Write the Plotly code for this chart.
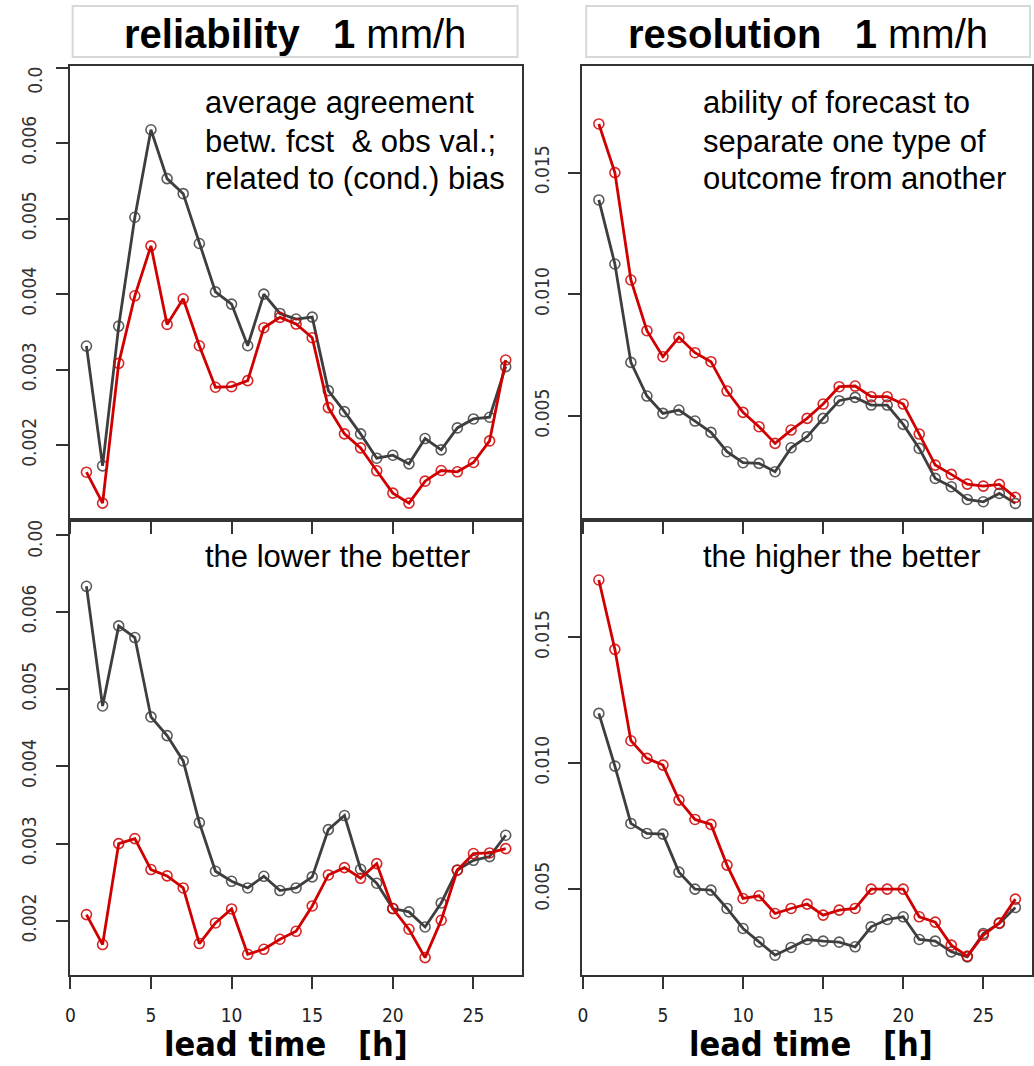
import plotly.graph_objects as go

# Lead time in hours
lead_time = list(range(1, 28))

# Reliability, 1 mm/h threshold (upper and lower panels)
rel_top_black = [0.003313, 0.001727, 0.003577, 0.005018, 0.006176, 0.005529, 0.005330,
                 0.004670, 0.004030, 0.003868, 0.003317, 0.004000, 0.003744, 0.003670,
                 0.003696, 0.002722, 0.002445, 0.002150, 0.001828, 0.001868, 0.001753,
                 0.002088, 0.001938, 0.002229, 0.002348, 0.002370, 0.003040]
rel_top_red = [0.001643, 0.001233, 0.003084, 0.003978, 0.004639, 0.003599, 0.003938,
               0.003317, 0.002767, 0.002775, 0.002855, 0.003555, 0.003692, 0.003604,
               0.003423, 0.002498, 0.002150, 0.001965, 0.001661, 0.001366, 0.001233,
               0.001524, 0.001665, 0.001648, 0.001771, 0.002057, 0.003128]
rel_bot_black = [0.006332, 0.004783, 0.005819, 0.005668, 0.004641, 0.004399, 0.004071,
                 0.003273, 0.002643, 0.002513, 0.002427, 0.002578, 0.002393, 0.002427,
                 0.002570, 0.003182, 0.003364, 0.002669, 0.002488, 0.002160, 0.002117,
                 0.001922, 0.002233, 0.002660, 0.002785, 0.002833, 0.003109]
rel_bot_red = [0.002082, 0.001694, 0.003001, 0.003066, 0.002665, 0.002583, 0.002427,
               0.001707, 0.001974, 0.002155, 0.001568, 0.001633, 0.001763, 0.001866,
               0.002194, 0.002595, 0.002690, 0.002552, 0.002742, 0.002160, 0.001892,
               0.001525, 0.002009, 0.002656, 0.002872, 0.002880, 0.002936]

# Resolution, 1 mm/h threshold (upper and lower panels)
res_top_black = [0.013877, 0.011247, 0.007205, 0.005822, 0.005110, 0.005247, 0.004795,
                 0.004329, 0.003534, 0.003082, 0.003055, 0.002712, 0.003699, 0.004151,
                 0.004904, 0.005630, 0.005767, 0.005452, 0.005452, 0.004658, 0.003671,
                 0.002438, 0.002096, 0.001575, 0.001479, 0.001822, 0.001411]
res_top_red = [0.017000, 0.015000, 0.010590, 0.008507, 0.007438, 0.008233, 0.007603,
               0.007233, 0.006027, 0.005151, 0.004562, 0.003877, 0.004425, 0.004904,
               0.005493, 0.006205, 0.006233, 0.005795, 0.005795, 0.005493, 0.004260,
               0.002986, 0.002603, 0.002205, 0.002123, 0.002192, 0.001658]
res_bot_black = [0.011980, 0.009887, 0.007609, 0.007212, 0.007185, 0.005675, 0.005000,
                 0.004960, 0.004232, 0.003437, 0.002907, 0.002377, 0.002682, 0.003000,
                 0.002934, 0.002894, 0.002709, 0.003503, 0.003795, 0.003901, 0.003000,
                 0.002934, 0.002510, 0.002311, 0.003238, 0.003636, 0.004272]
res_bot_red = [0.017278, 0.014523, 0.010894, 0.010192, 0.009927, 0.008536, 0.007768,
               0.007570, 0.005954, 0.004629, 0.004735, 0.004033, 0.004232, 0.004404,
               0.003967, 0.004166, 0.004232, 0.005000, 0.005000, 0.005000, 0.003901,
               0.003689, 0.002775, 0.002338, 0.003172, 0.003662, 0.004603]

x_ticks = [0, 5, 10, 15, 20, 25]
rel_ticks = [0.002, 0.003, 0.004, 0.005, 0.006, 0.007]
rel_ticktext = ["0.002", "0.003", "0.004", "0.005", "0.006", ""]
res_ticks = [0.005, 0.010, 0.015]
res_ticktext = ["0.005", "0.010", "0.015"]

W, H = 1034, 1066
BLACK = "#3e3e3e"
RED = "#d00000"
AXIS = "#333333"
NARROW = "Liberation Sans Narrow, DejaVu Sans Condensed, Arial Narrow, sans-serif"
SANS = "Liberation Sans, Arial, Helvetica, sans-serif"


def px_x(p):
    return p / W


def px_y(p):
    return 1 - p / H


fig = go.Figure()

panels = [
    ("x", "y", rel_top_black, rel_top_red),
    ("x2", "y2", res_top_black, res_top_red),
    ("x3", "y3", rel_bot_black, rel_bot_red),
    ("x4", "y4", res_bot_black, res_bot_red),
]
for xa, ya, blk, red in panels:
    for vals, col in ((blk, BLACK), (red, RED)):
        fig.add_trace(go.Scatter(
            x=lead_time, y=vals, xaxis=xa, yaxis=ya, mode="lines+markers",
            line=dict(color=col, width=2.8),
            marker=dict(symbol="circle-open", size=10, color=col,
                        line=dict(width=1.6, color=col), opacity=0.85),
            showlegend=False, hoverinfo="x+y"))

left_dom = [px_x(65), px_x(520)]
right_dom = [px_x(580), px_x(1032)]
top_dom = [px_y(520), px_y(66)]
bot_dom = [px_y(975), px_y(520)]

common_x = dict(range=[-0.04, 28.04], showgrid=False, zeroline=False,
                showline=True, mirror=True, linecolor=AXIS, linewidth=2,
                ticks="outside", ticklen=12, tickwidth=1.5, tickcolor=AXIS,
                tickvals=x_ticks, tickfont=dict(family=NARROW, size=19, color="#222"),
                ticklabelstandoff=10)
common_y = dict(showgrid=False, zeroline=False, showline=True, mirror=True,
                linecolor=AXIS, linewidth=2, ticks="outside", ticklen=12,
                tickwidth=1.5, tickcolor=AXIS, tickangle=-90,
                tickfont=dict(family=NARROW, size=19, color="#333"),
                ticklabelstandoff=12)

fig.update_layout(
    width=W, height=H, autosize=False,
    margin=dict(l=0, r=0, t=0, b=0),
    paper_bgcolor="white", plot_bgcolor="white",
    xaxis=dict(domain=left_dom, anchor="y", showticklabels=False, **common_x),
    yaxis=dict(domain=top_dom, anchor="x", range=[0.00101, 0.00702],
               tickvals=rel_ticks, ticktext=rel_ticktext, **common_y),
    xaxis2=dict(domain=right_dom, anchor="y2", showticklabels=False, **common_x),
    yaxis2=dict(domain=top_dom, anchor="x2", range=[0.00073, 0.01938],
                tickvals=res_ticks, ticktext=res_ticktext, **common_y),
    xaxis3=dict(domain=left_dom, anchor="y3", **common_x),
    yaxis3=dict(domain=bot_dom, anchor="x3", range=[0.00130, 0.00719],
                tickvals=rel_ticks, ticktext=rel_ticktext, **common_y),
    xaxis4=dict(domain=right_dom, anchor="y4", **common_x),
    yaxis4=dict(domain=bot_dom, anchor="x4", range=[0.00159, 0.01966],
                tickvals=res_ticks, ticktext=res_ticktext, **common_y),
)

# Framed headers above each column
for x0, x1 in ((68, 515), (584, 1030)):
    fig.add_shape(type="rect", xref="paper", yref="paper",
                  x0=px_x(x0), x1=px_x(x1), y0=px_y(57), y1=px_y(6),
                  line=dict(color="#d8d8d8", width=2), fillcolor="white")

annotations = [
    dict(x=px_x(291), y=px_y(34),
         text="<b>reliability</b>\u00a0\u00a0\u00a0<b>1</b> mm/h",
         font=dict(family=SANS, size=40, color="black")),
    dict(x=px_x(807), y=px_y(34),
         text="<b>resolution</b>\u00a0\u00a0\u00a0<b>1</b> mm/h",
         font=dict(family=SANS, size=40, color="black")),
    dict(x=px_x(282), y=px_y(1044), text="<b>lead time\u00a0\u00a0\u00a0[h]</b>",
         font=dict(family=NARROW, size=34, color="black")),
    dict(x=px_x(810), y=px_y(1044), text="<b>lead time\u00a0\u00a0\u00a0[h]</b>",
         font=dict(family=NARROW, size=34, color="black")),
    # upper tick labels cut off at the panel edge
    dict(x=px_x(30), y=px_y(80), text="0.0", textangle=-90,
         font=dict(family=NARROW, size=19, color="#333")),
    dict(x=px_x(30), y=px_y(539), text="0.00", textangle=-90,
         font=dict(family=NARROW, size=19, color="#333")),
]

panel_text = [
    (199, [103, 141, 179], ["average agreement", "betw. fcst\u00a0 & obs val.;",
                            "related to (cond.) bias"]),
    (699, [103, 141, 179], ["ability of forecast to", "separate one type of",
                            "outcome from another"]),
    (199, [556], ["the lower the better"]),
    (699, [556], ["the higher the better"]),
]
for x, ys, lines in panel_text:
    for y, t in zip(ys, lines):
        annotations.append(dict(x=px_x(x), y=px_y(y), text=t, xanchor="left",
                                font=dict(family=SANS, size=31, color="black")))

for a in annotations:
    a.setdefault("xref", "paper")
    a.setdefault("yref", "paper")
    a.setdefault("showarrow", False)
    a.setdefault("xanchor", "center")
    a.setdefault("yanchor", "middle")
fig.update_layout(annotations=annotations)

fig.write_html("out.html")
